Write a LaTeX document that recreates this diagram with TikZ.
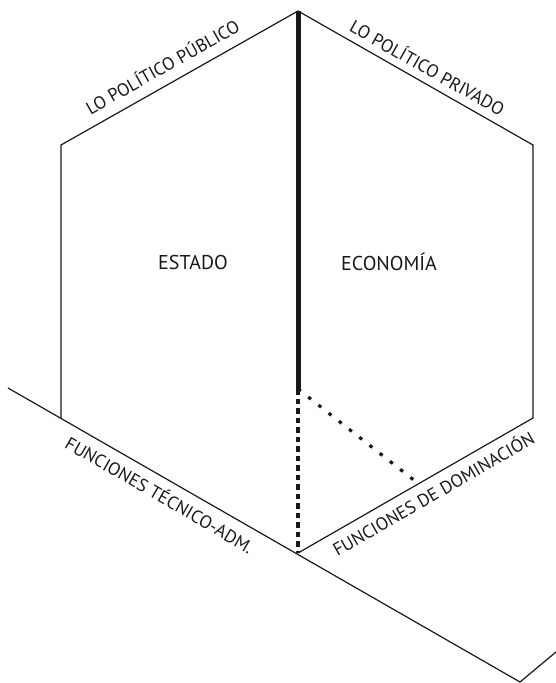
\documentclass[tikz,border=0pt]{standalone}
\usepackage{fontspec}
\setmainfont{PT Sans}
\tikzset{
  %% contorno del hexágono y recta base
  edgeline/.style={line width=1.2pt,draw=black!90},
  %% eje grueso
  axisline/.style={line width=5pt,draw=black!90},
  %% trazos ocultos
  hiddenline/.style={line width=3.2pt,draw=black!90,dash pattern=on 5.5pt off 4pt},
  hiddendots/.style={line width=3.2pt,draw=black!90,dash pattern=on 3.5pt off 9.5pt},
  %% rótulos
  lbl/.style={font=\fontsize{20}{22}\selectfont,inner sep=0pt,text=black!90},
  sidelbl/.style={font=\fontsize{18}{20}\selectfont,inner sep=0pt,text=black!90},
}

\begin{document}
\begin{tikzpicture}[x=1pt,y=1pt]
  \useasboundingbox (0,0) rectangle (555,-683);

  %% vértices
  \coordinate (top) at (298,-11);
  \coordinate (ul)  at (61,-145);
  \coordinate (ll)  at (61,-418);
  \coordinate (bot) at (298,-553);
  \coordinate (lr)  at (533,-418);
  \coordinate (ur)  at (533,-145);
  \coordinate (mid) at (298,-389);
  \coordinate (foot) at (415,-481);
  \coordinate (gl)  at (8,-388);
  \coordinate (gr)  at (520,-682);
  \coordinate (gk)  at (562,-647);

  %% hexágono y recta
  \draw[edgeline] (ll) -- (ul) -- (top) -- (ur) -- (lr) -- (bot);
  \draw[edgeline] (gl) -- (gr) -- (gk);

  %% eje central
  \draw[axisline] (top) -- (mid);
  \draw[hiddenline] (mid) -- (bot);
  \draw[hiddendots] (mid) -- (foot);

  %% rótulos
  \node[lbl] (estado)   at (193,-262) {ESTADO};
  \node[lbl] (economia) at (389,-262) {ECONOMÍA};
  \node[sidelbl,rotate=29.5]  (publico) at (162,-66) {LO POLÍTICO PÚBLICO};
  \node[sidelbl,rotate=-29.5] (privado) at (428,-67) {LO POLÍTICO PRIVADO};
  \node[sidelbl,rotate=-30]   (tecnico) at (160,-494) {FUNCIONES TÉCNICO-ADM.};
  \node[sidelbl,rotate=30]    (domina)  at (433,-493) {FUNCIONES DE DOMINACIÓN};
\end{tikzpicture}
\end{document}
